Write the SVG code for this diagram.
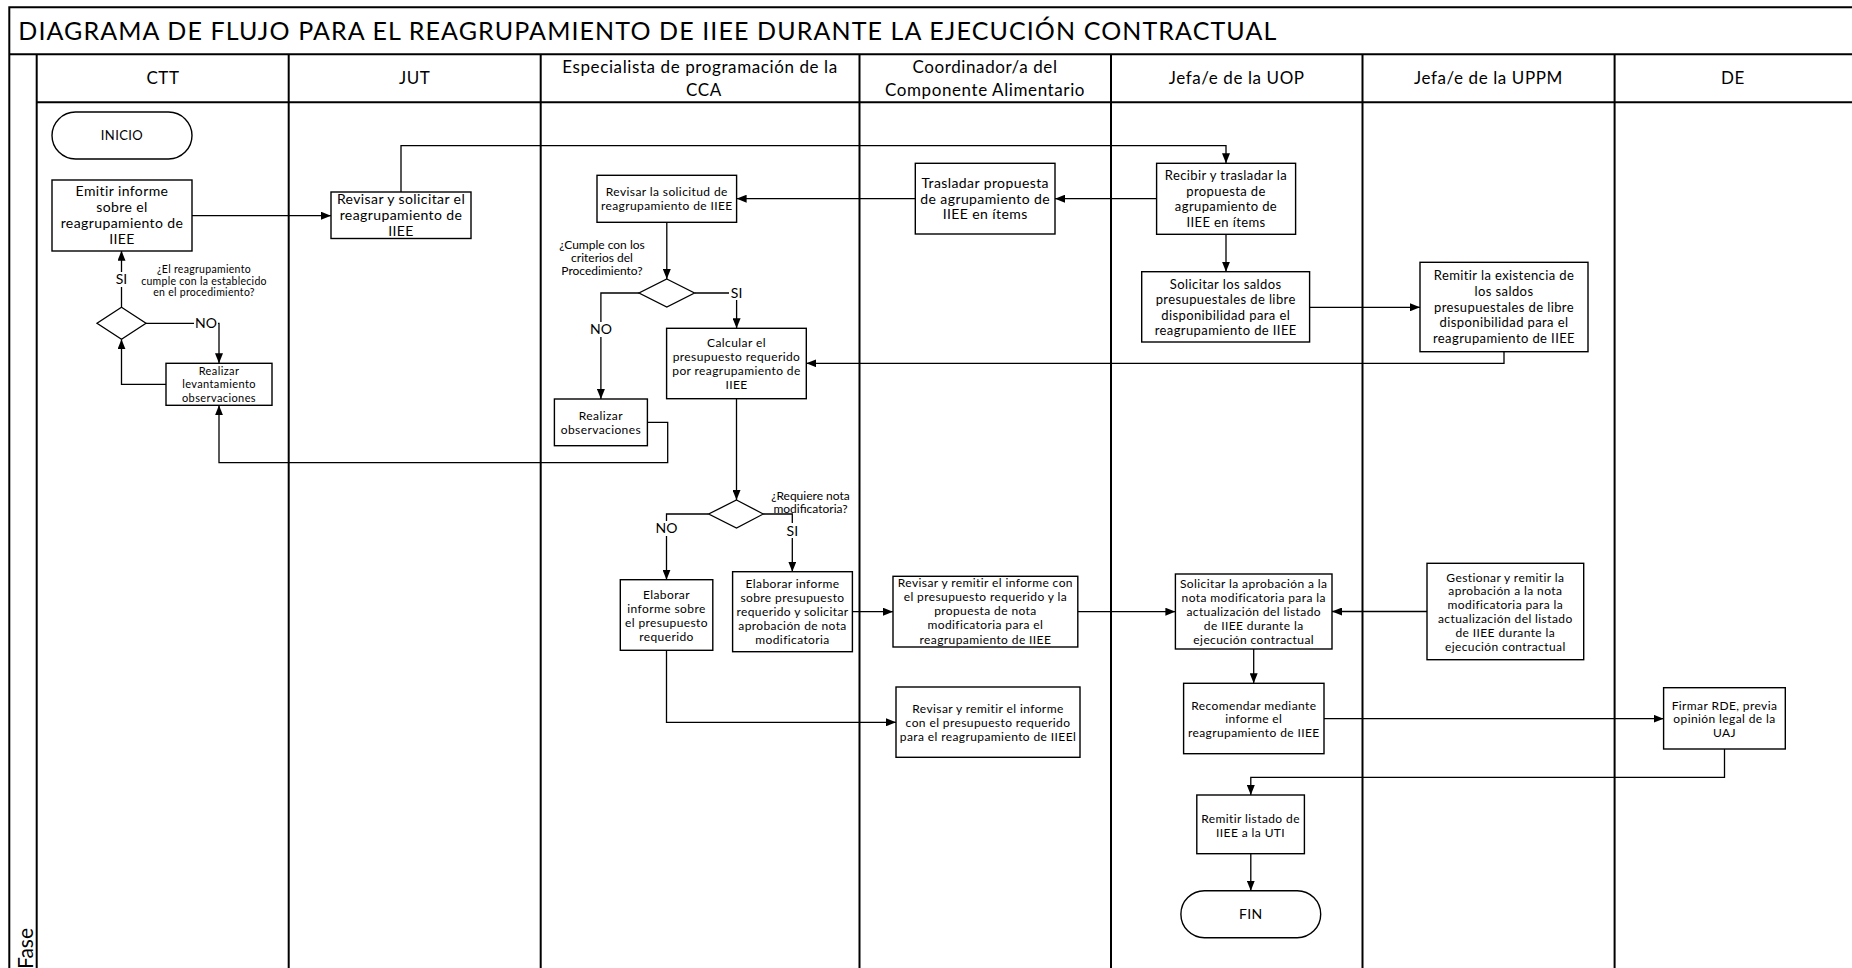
<svg xmlns="http://www.w3.org/2000/svg" width="1852" height="968" viewBox="0 0 1852 968">
<style>
.frame{stroke:#000;stroke-width:2;fill:none}
.box{fill:#fff;stroke:#000;stroke-width:1.4}
.dia{fill:#fff;stroke:#000;stroke-width:1.3}
.conn{fill:none;stroke:#000;stroke-width:1.3;marker-end:url(#arr)}
text{font-family:Lato,"Liberation Sans",sans-serif;fill:#000}
.title{font-size:25px}
.hdr{font-size:17px;letter-spacing:0.6px;text-anchor:middle}
.t14{font-size:14px;letter-spacing:0.4px;text-anchor:middle}
.t13{font-size:13px;letter-spacing:0.4px;text-anchor:middle}
.t12{font-size:12px;letter-spacing:0.4px;text-anchor:middle}
.t11{font-size:11px;letter-spacing:0.4px;text-anchor:middle}
.q{font-size:10.5px;letter-spacing:0.3px;text-anchor:middle}
.lbl{font-size:14px;text-anchor:middle}
.lblbg{fill:#fff;stroke:none}
</style>
<defs>
<marker id="arr" viewBox="0 0 10 8" refX="10" refY="4" markerWidth="10" markerHeight="8" markerUnits="userSpaceOnUse" orient="auto">
<path d="M0,0 L10,4 L0,8 z" fill="#000"/>
</marker>
</defs>
<rect width="1852" height="968" fill="#fff"/>

<g id="frame">
<path class="frame" d="M9.3,968 V7.3 H1860"/>
<path class="frame" d="M9.3,54.3 H1860"/>
<path class="frame" d="M36.7,54.3 V970"/>
<path class="frame" d="M36.7,102.3 H1860"/>
<path class="frame" d="M288.7,54.3 V970 M540.7,54.3 V970 M859.5,54.3 V970 M1111,54.3 V970 M1362.5,54.3 V970 M1614.6,54.3 V970"/>
<text class="title" x="18.3" y="39.5" textLength="1258" lengthAdjust="spacing">DIAGRAMA DE FLUJO PARA EL REAGRUPAMIENTO DE IIEE DURANTE LA EJECUCIÓN CONTRACTUAL</text>
<text x="33" y="969" transform="rotate(-90 33 969)" style="font-size:21px">Fase</text>
</g>

<g id="headers">
<text class="hdr" x="163" y="84.3">CTT</text>
<text class="hdr" x="414.7" y="84.3">JUT</text>
<text class="hdr" x="700" y="72.5">Especialista de programación de la</text>
<text class="hdr" x="704" y="96">CCA</text>
<text class="hdr" x="985" y="72.5">Coordinador/a del</text>
<text class="hdr" x="985" y="96">Componente Alimentario</text>
<text class="hdr" x="1236.7" y="84.3">Jefa/e de la UOP</text>
<text class="hdr" x="1488.5" y="84.3">Jefa/e de la UPPM</text>
<text class="hdr" x="1733" y="84.3">DE</text>
</g>

<g id="connectors">
<path class="conn" d="M192,215.7 H331"/>
<path class="conn" d="M401,192 V145.7 H1226 V163.3"/>
<path class="conn" d="M1156.6,198.7 H1055"/>
<path class="conn" d="M915.3,198.7 H736.6"/>
<path class="conn" d="M666.8,222.3 V279"/>
<path class="conn" d="M694.5,293 H736.6 V328.3"/>
<path class="conn" d="M639,293 H600.9 V399"/>
<path class="conn" d="M1226,234.3 V271.7"/>
<path class="conn" d="M1309.6,307.3 H1420"/>
<path class="conn" d="M1504,351.7 V363.3 H806.3"/>
<path class="conn" d="M647.4,422.3 H667.7 V462.7 H219 V405.3"/>
<path class="conn" d="M736.5,398.7 V500"/>
<path class="conn" d="M763.3,514 H792.3 V571.7"/>
<path class="conn" d="M708.7,514 H666.5 V579.7"/>
<path class="conn" d="M852.4,611.7 H893"/>
<path class="conn" d="M1077.8,611.7 H1175.4"/>
<path class="conn" d="M1427,611.5 H1332"/>
<path class="conn" d="M1253.7,649 V683.3"/>
<path class="conn" d="M1324,718.7 H1663.6"/>
<path class="conn" d="M1724.5,749 V777.3 H1250.8 V795"/>
<path class="conn" d="M1250.8,853.7 V890.7"/>
<path class="conn" d="M666.5,650.3 V722.3 H896"/>
<path class="conn" d="M121.5,307.3 V250.7"/>
<path class="conn" d="M146,323.3 H219 V363.3"/>
<path class="conn" d="M166,384.3 H121.5 V339.3"/>
<rect class="lblbg" x="114" y="272" width="15" height="15"/>
<text class="lbl" x="121.5" y="284">SI</text>
<rect class="lblbg" x="194" y="316" width="24" height="15"/>
<text class="lbl" x="206" y="328.3">NO</text>
<rect class="lblbg" x="729" y="285" width="15" height="15"/>
<text class="lbl" x="736.6" y="297.5">SI</text>
<rect class="lblbg" x="589" y="322" width="24" height="15"/>
<text class="lbl" x="600.9" y="334">NO</text>
<rect class="lblbg" x="785" y="523" width="15" height="15"/>
<text class="lbl" x="792.3" y="536">SI</text>
<rect class="lblbg" x="654.5" y="521" width="24" height="15"/>
<text class="lbl" x="666.5" y="533.3">NO</text>
</g>

<g id="inicio">
<rect class="box" x="52" y="112" width="140" height="47" rx="23.5"/>
<text class="t13" x="122" y="140.2">INICIO</text>
</g>
<g id="emitir">
<rect class="box" x="52" y="180" width="140" height="71"/>
<text class="t14"><tspan x="122" y="196">Emitir informe</tspan><tspan x="122" y="212">sobre el</tspan><tspan x="122" y="228">reagrupamiento de</tspan><tspan x="122" y="243.5">IIEE</tspan></text>
</g>
<g id="dec_ctt">
<path class="dia" d="M121.5,307.3 L146,323.3 L121.5,339.3 L97,323.3 Z"/>
<text class="q"><tspan x="204" y="273">¿El reagrupamiento</tspan><tspan x="204" y="284.7">cumple con la establecido</tspan><tspan x="204" y="296.4">en el procedimiento?</tspan></text>
</g>
<g id="realizar_lev">
<rect class="box" x="166" y="363.3" width="106" height="42"/>
<text class="t11"><tspan x="219" y="374.7">Realizar</tspan><tspan x="219" y="388.3">levantamiento</tspan><tspan x="219" y="402">observaciones</tspan></text>
</g>
<g id="jut_revisar">
<rect class="box" x="331" y="192" width="140" height="46.5"/>
<text class="t14"><tspan x="401" y="204">Revisar y solicitar el</tspan><tspan x="401" y="219.8">reagrupamiento de</tspan><tspan x="401" y="235.6">IIEE</tspan></text>
</g>
<g id="revisar_sol">
<rect class="box" x="597" y="175.3" width="139.6" height="47"/>
<text class="t12"><tspan x="666.8" y="195.6">Revisar la solicitud de</tspan><tspan x="666.8" y="210">reagrupamiento de IIEE</tspan></text>
</g>
<g id="dec_cumple">
<path class="dia" d="M666.8,279 L694.5,293 L666.8,307 L639,293 Z"/>
<text class="t12" style="letter-spacing:0"><tspan x="602" y="249.3">¿Cumple con los</tspan><tspan x="602" y="261.6">criterios del</tspan><tspan x="602" y="274.6">Procedimiento?</tspan></text>
</g>
<g id="calcular">
<rect class="box" x="666.6" y="328.3" width="139.7" height="70.4"/>
<text class="t12"><tspan x="736.5" y="347">Calcular el</tspan><tspan x="736.5" y="361">presupuesto requerido</tspan><tspan x="736.5" y="375">por reagrupamiento de</tspan><tspan x="736.5" y="388.6">IIEE</tspan></text>
</g>
<g id="realizar_obs">
<rect class="box" x="554.4" y="399" width="93" height="46.7"/>
<text class="t12"><tspan x="600.9" y="419.6">Realizar</tspan><tspan x="600.9" y="433.6">observaciones</tspan></text>
</g>
<g id="dec_nota">
<path class="dia" d="M736.5,500 L763.3,514 L736.5,528 L708.7,514 Z"/>
<text class="t12" style="letter-spacing:0"><tspan x="810.5" y="500">¿Requiere nota</tspan><tspan x="810.5" y="512.6">modificatoria?</tspan></text>
</g>
<g id="elab_no">
<rect class="box" x="620.3" y="579.7" width="92.5" height="70.6"/>
<text class="t12"><tspan x="666.5" y="598.6">Elaborar</tspan><tspan x="666.5" y="612.6">informe  sobre</tspan><tspan x="666.5" y="626.6">el presupuesto</tspan><tspan x="666.5" y="640.6">requerido</tspan></text>
</g>
<g id="elab_si">
<rect class="box" x="732.6" y="571.7" width="119.8" height="80"/>
<text class="t12"><tspan x="792.5" y="588">Elaborar informe</tspan><tspan x="792.5" y="602">sobre presupuesto</tspan><tspan x="792.5" y="616">requerido y solicitar</tspan><tspan x="792.5" y="630">aprobación de nota</tspan><tspan x="792.5" y="644">modificatoria</tspan></text>
</g>
<g id="trasladar">
<rect class="box" x="915.3" y="163.3" width="139.7" height="70.7"/>
<text class="t14"><tspan x="985.2" y="187.7">Trasladar propuesta</tspan><tspan x="985.2" y="203.5">de agrupamiento de</tspan><tspan x="985.2" y="218.5">IIEE en ítems</tspan></text>
</g>
<g id="revisar_remitir1">
<rect class="box" x="893" y="576.3" width="184.8" height="70.7"/>
<text class="t12"><tspan x="985.4" y="587">Revisar y remitir el informe con</tspan><tspan x="985.4" y="601">el presupuesto  requerido y la</tspan><tspan x="985.4" y="615">propuesta de nota</tspan><tspan x="985.4" y="629">modificatoria para el</tspan><tspan x="985.4" y="644">reagrupamiento de IIEE</tspan></text>
</g>
<g id="revisar_remitir2">
<rect class="box" x="896" y="687" width="184" height="70.3"/>
<text class="t12"><tspan x="988" y="713">Revisar  y remitir el informe</tspan><tspan x="988" y="727">con el presupuesto requerido</tspan><tspan x="988" y="741">para el reagrupamiento de IIEEl</tspan></text>
</g>
<g id="recibir">
<rect class="box" x="1156.6" y="163.3" width="139" height="71"/>
<text class="t13"><tspan x="1226" y="180.4">Recibir y trasladar la</tspan><tspan x="1226" y="195.7">propuesta de</tspan><tspan x="1226" y="211.4">agrupamiento de</tspan><tspan x="1226" y="227">IIEE en ítems</tspan></text>
</g>
<g id="solicitar_saldos">
<rect class="box" x="1141.7" y="271.7" width="167.9" height="70.3"/>
<text class="t13"><tspan x="1225.7" y="288.7">Solicitar los saldos</tspan><tspan x="1225.7" y="304">presupuestales de libre</tspan><tspan x="1225.7" y="319.7">disponibilidad para el</tspan><tspan x="1225.7" y="335.4">reagrupamiento de IIEE</tspan></text>
</g>
<g id="solicitar_aprobacion">
<rect class="box" x="1175.4" y="574" width="156.6" height="75"/>
<text class="t12"><tspan x="1253.7" y="587.6">Solicitar la aprobación a la</tspan><tspan x="1253.7" y="601.6">nota modificatoria para la</tspan><tspan x="1253.7" y="615.6">actualización del listado</tspan><tspan x="1253.7" y="629.6">de IIEE durante la</tspan><tspan x="1253.7" y="643.6">ejecución contractual</tspan></text>
</g>
<g id="recomendar">
<rect class="box" x="1183.6" y="683.3" width="140.4" height="70.4"/>
<text class="t12"><tspan x="1253.8" y="709.6">Recomendar mediante</tspan><tspan x="1253.8" y="723">informe el</tspan><tspan x="1253.8" y="737">reagrupamiento de IIEE</tspan></text>
</g>
<g id="remitir_listado">
<rect class="box" x="1196.8" y="795" width="107.6" height="58.7"/>
<text class="t12"><tspan x="1250.6" y="822.6">Remitir listado de</tspan><tspan x="1250.6" y="836.6">IIEE a la UTI</tspan></text>
</g>
<g id="fin">
<rect class="box" x="1180.9" y="890.7" width="139.8" height="47" rx="23.5"/>
<text class="t14" x="1250.8" y="919">FIN</text>
</g>
<g id="remitir_existencia">
<rect class="box" x="1420" y="262.3" width="168" height="89.4"/>
<text class="t13"><tspan x="1504" y="280.4">Remitir la existencia de</tspan><tspan x="1504" y="296">los saldos</tspan><tspan x="1504" y="311.7">presupuestales de libre</tspan><tspan x="1504" y="327.4">disponibilidad para el</tspan><tspan x="1504" y="343.4">reagrupamiento de IIEE</tspan></text>
</g>
<g id="gestionar">
<rect class="box" x="1427" y="563.3" width="156.7" height="96.4"/>
<text class="t12"><tspan x="1505.3" y="581.6">Gestionar y remitir la</tspan><tspan x="1505.3" y="595.3">aprobación a la nota</tspan><tspan x="1505.3" y="609.3">modificatoria para la</tspan><tspan x="1505.3" y="623.3">actualización del listado</tspan><tspan x="1505.3" y="637.3">de IIEE durante la</tspan><tspan x="1505.3" y="651.3">ejecución contractual</tspan></text>
</g>
<g id="firmar">
<rect class="box" x="1663.6" y="687.7" width="121.7" height="61.3"/>
<text class="t12"><tspan x="1724.5" y="709.6">Firmar RDE, previa</tspan><tspan x="1724.5" y="723">opinión legal de la</tspan><tspan x="1724.5" y="737">UAJ</tspan></text>
</g>
</svg>
